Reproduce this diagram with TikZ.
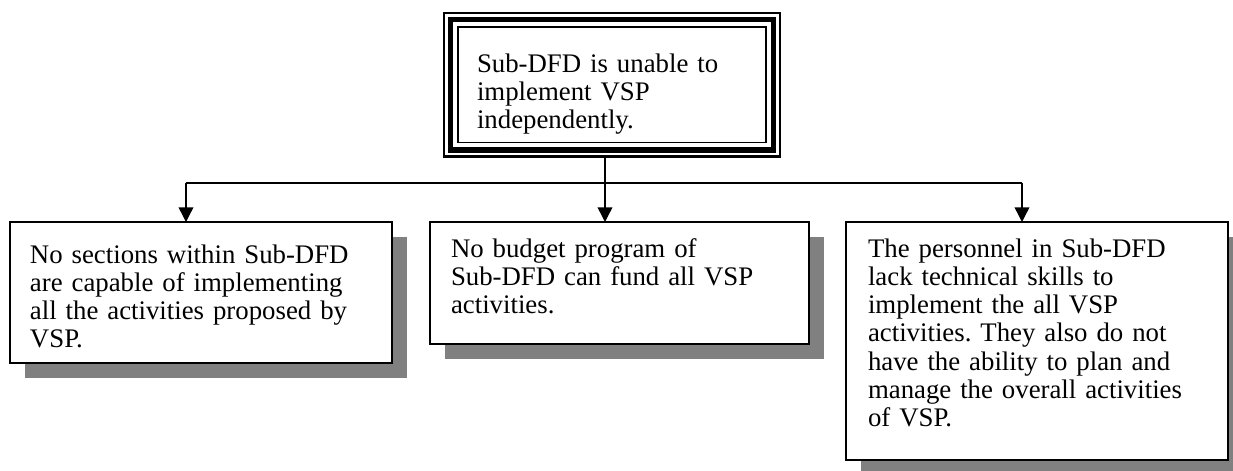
\documentclass[tikz,border=0pt]{standalone}
\usepackage{fontspec}
\setmainfont{Liberation Serif}
\usetikzlibrary{arrows.meta,shadows,calc}
\definecolor{shadowgray}{HTML}{808080}
\begin{document}
\frenchspacing
\begin{tikzpicture}[x=0.75pt,y=-0.75pt,
  box/.style={draw=black, line width=1.6pt, fill=white, rectangle, inner sep=0pt, outer sep=0pt, anchor=north west},
  shadowed/.style={drop shadow={shadow xshift=11.25pt, shadow yshift=-11.25pt, fill=shadowgray, opacity=1}},
  txt/.style={anchor=north west, inner sep=0pt, outer sep=0pt, align=left, text width=#1, font=\fontsize{20.1}{21.2}\selectfont},
  conn/.style={line width=1.1pt, draw=black},
  arr/.style={conn, -{Triangle[length=11pt,width=11pt]}}]
\useasboundingbox (0,0) rectangle (1233,471);
\fill[white] (0,0) rectangle (1233,471);

% top box (triple border)
\node[box, line width=1.1pt, minimum width=231pt, minimum height=86.6pt] (top) at (458,27) {};
\draw[line width=4pt] ($(top.north west)+(-7.5,-7.5)$) rectangle ($(top.south east)+(7.5,7.5)$);
\draw[line width=1.6pt] ($(top.north west)+(-14,-14)$) rectangle ($(top.south east)+(14,14)$);
\node[txt=220pt] (toptext) at (477,52) {\rule{0pt}{15pt}Sub-DFD is unable to\\implement VSP\\independently.};

% bottom boxes
\node[box, shadowed, minimum width=286.5pt, minimum height=105.75pt] (b1) at (10,222) {};
\node[box, shadowed, minimum width=284.25pt, minimum height=91.5pt] (b2) at (430,222) {};
\node[box, shadowed, minimum width=286.5pt, minimum height=178.5pt] (b3) at (846,222) {};

\node[txt=270pt] (t1) at (30,243) {\rule{0pt}{15pt}No sections within Sub-DFD\\are capable of implementing\\all the activities proposed by\\VSP.};
\node[txt=270pt] (t2) at (451,237) {\rule{0pt}{15pt}No budget program of\\Sub-DFD can fund all VSP\\activities.};
\node[txt=270pt] (t3) at (868,237) {\rule{0pt}{15pt}The personnel in Sub-DFD\\lack technical skills to\\implement the all VSP\\activities. They also do not\\have the ability to plan and\\manage the overall activities\\of VSP.};

% connectors
\coordinate (jl) at (186,183);
\coordinate (jm) at (605,183);
\coordinate (jr) at (1022,183);
\coordinate (topout) at ($(jm |- top.south)+(0,14)$);
\draw[conn] (jl) -- (jr);
\draw[arr] (topout) -- (jm |- b2.north);
\draw[arr] (jl) -- (jl |- b1.north);
\draw[arr] (jr) -- (jr |- b3.north);
\end{tikzpicture}
\end{document}
